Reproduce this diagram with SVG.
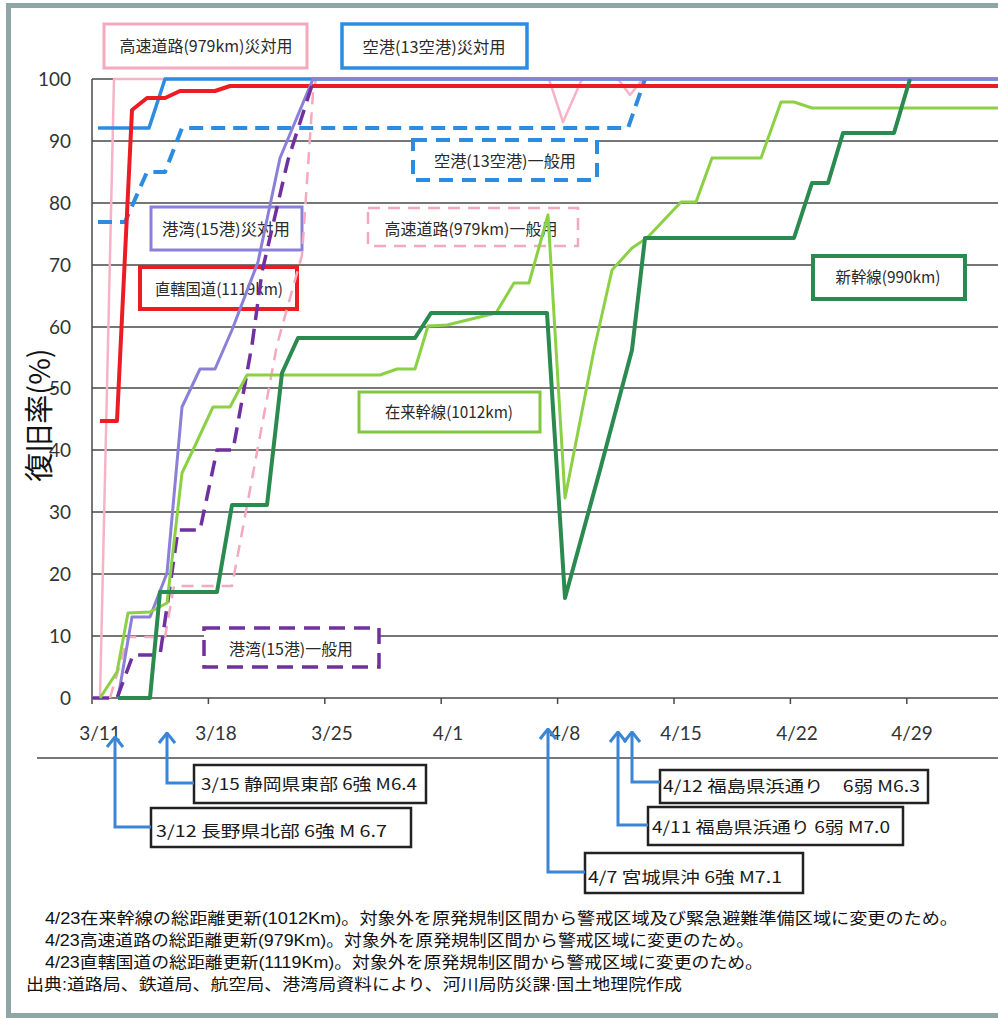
<svg xmlns="http://www.w3.org/2000/svg" width="998" height="1018" viewBox="0 0 998 1018">
<defs>
<style>
.grid{stroke:#4a4a4a;stroke-width:1.5;fill:none}
.lg{font-family:"Noto Sans CJK JP","Liberation Sans",sans-serif;font-size:16px;fill:#2a2a2a;text-anchor:middle}
.ax{font-family:Lato,"Liberation Sans",sans-serif;font-size:19px;fill:#333}
.ann{font-family:"Noto Sans CJK JP","Liberation Sans",sans-serif;font-size:16px;fill:#1a1a1a}
.note{font-family:"Liberation Sans","Noto Sans CJK JP",sans-serif;font-size:16px;fill:#111}
.abox{fill:#fff;stroke:#222;stroke-width:2.5}
.bx{fill:#fff}
.arr{fill:none;stroke:#3a85d6;stroke-width:3;marker-end:url(#ah)}
.s{fill:none;stroke-linejoin:round;stroke-linecap:butt}
</style>
<marker id="ah" viewBox="0 0 12 18" refX="11" refY="9" markerWidth="12" markerHeight="18" markerUnits="userSpaceOnUse" orient="auto"><path d="M1,1 L11,9 L1,17" fill="none" stroke="#3a85d6" stroke-width="3"/></marker>
</defs>
<rect x="0" y="0" width="998" height="1018" fill="#fff"/>
<path d="M998,5.5 H8.5 V1015.5 H998" fill="none" stroke="#8ea6a6" stroke-width="5"/>

<g id="grid">
<path class="grid" d="M92,79H998M92,141H998M92,203H998M92,265H998M92,327H998M92,388H998M92,450H998M92,512H998M92,574H998M92,636H998M92,698H998"/>
<path class="grid" d="M92,79V698" stroke-width="1.2"/>
<path class="grid" d="M92,698V704M208.4,698V704M324.8,698V704M441.2,698V704M557.6,698V704M674,698V704M790.4,698V704M906.8,698V704" stroke-width="1.2"/>
<path class="grid" d="M37,758H998"/>
</g>

<g id="y-axis-labels" class="ax" text-anchor="end">
<text x="71" y="86">100</text>
<text x="71" y="148">90</text>
<text x="71" y="210">80</text>
<text x="71" y="272">70</text>
<text x="71" y="334">60</text>
<text x="71" y="395">50</text>
<text x="71" y="457">40</text>
<text x="71" y="519">30</text>
<text x="71" y="581">20</text>
<text x="71" y="643">10</text>
<text x="71" y="705">0</text>
</g>
<text id="y-title" transform="translate(50,415) rotate(-90)" text-anchor="middle" font-family="'Noto Sans CJK JP','Liberation Sans',sans-serif" font-size="29" fill="#111">復旧率(%)</text>

<g id="x-axis-labels" class="ax" text-anchor="middle">
<text x="100" y="740">3/11</text>
<text x="216" y="740">3/18</text>
<text x="332" y="740">3/25</text>
<text x="448" y="740">4/1</text>
<text x="565" y="740">4/8</text>
<text x="681" y="740">4/15</text>
<text x="797" y="740">4/22</text>
<text x="912" y="740">4/29</text>
</g>

<g id="legend-hw-dis"><rect class="bx" x="104" y="24" width="203" height="44" stroke="#f4a9bd" stroke-width="3"/><text class="lg" x="206" y="52" textLength="173" lengthAdjust="spacingAndGlyphs">高速道路(979km)災対用</text></g>
<g id="legend-ap-dis"><rect class="bx" x="342" y="24" width="185" height="44" stroke="#2b8ce2" stroke-width="3.5"/><text class="lg" x="434" y="53" textLength="143" lengthAdjust="spacingAndGlyphs">空港(13空港)災対用</text></g>
<g id="legend-port-dis"><rect class="bx" x="151" y="207" width="151" height="43" stroke="#8a80d8" stroke-width="3"/><text class="lg" x="226" y="235" textLength="128" lengthAdjust="spacingAndGlyphs">港湾(15港)災対用</text></g>
<g id="legend-road"><rect class="bx" x="140" y="267" width="157" height="42" stroke="#ec1c24" stroke-width="4"/><text class="lg" x="219" y="295" textLength="128" lengthAdjust="spacingAndGlyphs">直轄国道(1119km)</text></g>
<g id="legend-ap-gen"><rect class="bx" x="413" y="140" width="184" height="40" stroke="#2b8ce2" stroke-width="4" stroke-dasharray="14 9"/><text class="lg" x="505" y="167" textLength="142" lengthAdjust="spacingAndGlyphs">空港(13空港)一般用</text></g>
<g id="legend-hw-gen"><rect class="bx" x="368" y="208" width="210" height="38" stroke="#f4a9bd" stroke-width="2.5" stroke-dasharray="12 8"/><text class="lg" x="471" y="235" textLength="173" lengthAdjust="spacingAndGlyphs">高速道路(979km)一般用</text></g>
<g id="legend-shinkansen"><rect class="bx" x="813" y="256" width="152" height="43" stroke="#2b8a4f" stroke-width="4"/><text class="lg" x="888" y="283" textLength="105" lengthAdjust="spacingAndGlyphs">新幹線(990km)</text></g>
<g id="legend-zairai"><rect class="bx" x="359" y="392" width="181" height="40" stroke="#80c841" stroke-width="3"/><text class="lg" x="449" y="418" textLength="128" lengthAdjust="spacingAndGlyphs">在来幹線(1012km)</text></g>
<g id="legend-port-gen"><rect class="bx" x="204" y="628" width="175" height="39" stroke="#7030a0" stroke-width="3.5" stroke-dasharray="16 9"/><text class="lg" x="291" y="655" textLength="124" lengthAdjust="spacingAndGlyphs">港湾(15港)一般用</text></g>

<g id="series">
<path id="s-hw-dis" class="s" stroke="#f6b3c6" stroke-width="2.5" d="M100,698 L114,79 L549,79 L563,122 L582,79 L618,79 L630,95 L643,79 L998,79"/>
<path id="s-hw-gen" class="s" stroke="#f4a9bd" stroke-width="2.5" stroke-dasharray="12 8" d="M110,698 L128,637 L165,637 L174,586 L232,586 L277,345 L302,255 L313,93 L316,79"/>
<path id="s-ap-gen" class="s" stroke="#2b8ce2" stroke-width="4" stroke-dasharray="14 8" d="M98,222 L125,222 L147,172 L165,172 L182,128 L628,128 L645,79"/>
<path id="s-ap-dis" class="s" stroke="#2b8ce2" stroke-width="3.5" d="M98,128 L149,128 L165,79 L998,79"/>
<path id="s-road" class="s" stroke="#ec1c24" stroke-width="4" d="M100,421 L117,421 L132,110 L147,98 L165,98 L180,91 L215,91 L230,86 L998,86"/>
<path id="s-port-dis" class="s" stroke="#8a80d8" stroke-width="3" d="M118,698 L132,617 L150,617 L167,573 L182,407 L200,369 L215,369 L232,330 L258,262 L280,158 L313,79 L998,79"/>
<path id="s-port-gen" class="s" stroke="#7030a0" stroke-width="3.5" stroke-dasharray="16 9" d="M93,698 L117,698 L133,655 L160,655 L168,600 L178,530 L200,530 L217,450 L233,450 L252,345 L262,272 L288,160 L314,79"/>
<path id="s-zairai" class="s" stroke="#8cd045" stroke-width="3" d="M100,698 L117,672 L128,613 L150,612 L167,603 L182,473 L193,450 L213,407 L230,407 L247,375 L380,375 L397,369 L415,369 L428,326 L447,325 L496,313 L514,283 L529,283 L548,215 L565,498 L594,350 L612,270 L632,248 L647,238 L681,202 L696,202 L712,158 L761,158 L781,102 L794,102 L812,108 L998,108"/>
<path id="s-shinkansen" class="s" stroke="#2b8a4f" stroke-width="4" d="M118,698 L150,698 L160,592 L217,592 L232,505 L267,505 L282,373 L298,338 L415,338 L431,313 L547,313 L565,598 L600,470 L632,350 L645,238 L794,238 L812,183 L828,183 L843,133 L894,133 L910,79"/>
</g>

<g id="ev-0315"><rect class="abox" x="194" y="765" width="232" height="38"/><text class="ann" x="201" y="790" textLength="216" lengthAdjust="spacingAndGlyphs">3/15  静岡県東部 6強 M6.4</text></g>
<g id="ev-0312"><rect class="abox" x="151" y="808" width="260" height="39"/><text class="ann" x="156" y="837" textLength="231" lengthAdjust="spacingAndGlyphs">3/12  長野県北部  6強 M 6.7</text></g>
<g id="ev-0412"><rect class="abox" x="660" y="770" width="268" height="33"/><text class="ann" x="663" y="792" textLength="257" lengthAdjust="spacingAndGlyphs">4/12 福島県浜通り　6弱 M6.3</text></g>
<g id="ev-0411"><rect class="abox" x="648" y="807" width="255" height="38"/><text class="ann" x="652" y="833" textLength="238" lengthAdjust="spacingAndGlyphs">4/11 福島県浜通り 6弱 M7.0</text></g>
<g id="ev-0407"><rect class="abox" x="585" y="853" width="218" height="40"/><text class="ann" x="588" y="883" textLength="194" lengthAdjust="spacingAndGlyphs">4/7 宮城県沖 6強 M7.1</text></g>

<g id="connectors">
<path class="arr" d="M151,827 H115 V737"/>
<path class="arr" d="M194,783 H167 V733"/>
<path class="arr" d="M585,872 H548 V729"/>
<path class="arr" d="M648,825 H618 V732"/>
<path class="arr" d="M660,782 H632 V732"/>
</g>

<g id="notes" class="note">
<text x="45" y="924" textLength="913" lengthAdjust="spacingAndGlyphs">4/23在来幹線の総距離更新(1012Km)。対象外を原発規制区間から警戒区域及び緊急避難準備区域に変更のため。</text>
<text x="45" y="946" textLength="709" lengthAdjust="spacingAndGlyphs">4/23高速道路の総距離更新(979Km)。対象外を原発規制区間から警戒区域に変更のため。</text>
<text x="45" y="968" textLength="718" lengthAdjust="spacingAndGlyphs">4/23直轄国道の総距離更新(1119Km)。対象外を原発規制区間から警戒区域に変更のため。</text>
<text x="26" y="990" textLength="656" lengthAdjust="spacingAndGlyphs">出典:道路局、鉄道局、航空局、港湾局資料により、河川局防災課·国土地理院作成</text>
</g>
</svg>
